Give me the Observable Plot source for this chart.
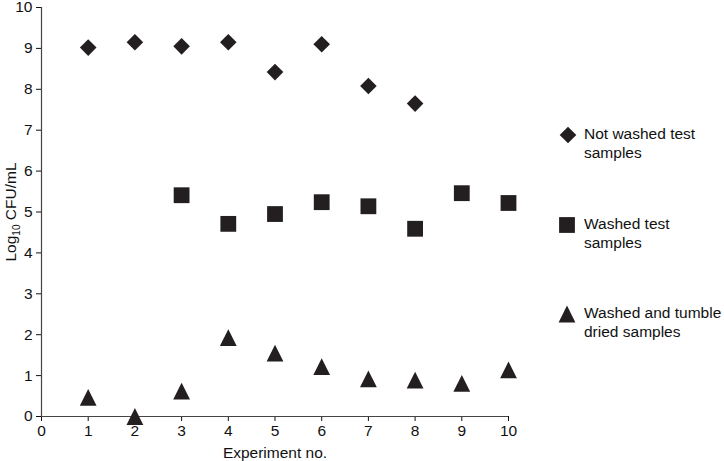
<!DOCTYPE html>
<html><head><meta charset="utf-8">
<script src="https://cdn.jsdelivr.net/npm/d3@7"></script>
<script src="https://cdn.jsdelivr.net/npm/@observablehq/plot@0.6"></script>
<style>
body{margin:0;background:#fff;}
#wrap{position:relative;width:724px;height:461px;font-family:"Liberation Sans",Arial,sans-serif;color:#111;}
.leg{position:absolute;font-size:15.5px;line-height:18.6px;white-space:nowrap;}
.sym{position:absolute;}
</style></head><body><div id="wrap"></div>
<script>
const experiments = [1, 2, 3, 4, 5, 6, 7, 8, 9, 10];
const notWashed = [9.02, 9.15, 9.05, 9.15, 8.42, 9.10, 8.08, 7.65, null, null];
const washed = [null, null, 5.41, 4.71, 4.95, 5.24, 5.14, 4.59, 5.46, 5.22];
const tumbleDried = [0.47, 0.0, 0.62, 1.93, 1.55, 1.22, 0.92, 0.89, 0.81, 1.14];
const seriesNames = [["Not washed test", "samples"], ["Washed test", "samples"], ["Washed and tumble", "dried samples"]];
const xTicks = [0, 1, 2, 3, 4, 5, 6, 7, 8, 9, 10];
const yTicks = [0, 1, 2, 3, 4, 5, 6, 7, 8, 9, 10];

const ink = "#231f20";
const diamond = {draw(ctx, size) {const r = Math.sqrt(size / Math.PI); ctx.moveTo(0, -r); ctx.lineTo(r, 0); ctx.lineTo(0, r); ctx.lineTo(-r, 0); ctx.closePath();}};
const square = {draw(ctx, size) {const r = Math.sqrt(size / Math.PI); ctx.rect(-r, -r, 2 * r, 2 * r);}};
const triangle = {draw(ctx, size) {const r = Math.sqrt(size / Math.PI); ctx.moveTo(0, -r); ctx.lineTo(r, r); ctx.lineTo(-r, r); ctx.closePath();}};
const symbols = [diamond, square, triangle];
const sizes = [8.3, 7.9, 8.4];

const series = [notWashed, washed, tumbleDried].map(vals =>
  experiments.map((e, i) => ({x: e, y: vals[i]})).filter(d => d.y != null));

const chart = Plot.plot({
  width: 724, height: 461,
  marginLeft: 41, marginRight: 216, marginTop: 7, marginBottom: 45,
  style: {fontFamily: '"Liberation Sans", Arial, sans-serif', fontSize: "15.5px", color: "#111", background: "#fff"},
  x: {domain: [0, 10], ticks: xTicks, tickSize: 5, tickPadding: 3, label: "Experiment no.", labelAnchor: "center", labelOffset: 41, labelArrow: "none"},
  y: {domain: [0, 10], ticks: yTicks, tickSize: 5, tickPadding: 4, label: "Log10 CFU/mL", labelAnchor: "center", labelOffset: 37, labelArrow: "none"},
  marks: [
    Plot.ruleX([0], {stroke: "#444", strokeWidth: 1.2}),
    Plot.ruleY([0], {stroke: "#444", strokeWidth: 1.2}),
    ...series.map((s, k) => Plot.dot(s, {x: "x", y: "y", symbol: symbols[k], r: sizes[k], fill: ink, stroke: "none"}))
  ]
});
document.getElementById("wrap").appendChild(chart);

// subscript in y label
const ylab = d3.select(chart).select('g[aria-label="y-axis label"] text');
if (!ylab.empty()) {
  ylab.text(null);
  ylab.append("tspan").text("Log");
  ylab.append("tspan").attr("font-size", "10px").attr("dy", 4).text("10");
  ylab.append("tspan").attr("dy", -4).text(" CFU/mL");
}

// legend on the right
const legendPos = [{sx: 568, sy: 135, tx: 584, ty: 125}, {sx: 567, sy: 225, tx: 584, ty: 215}, {sx: 567, sy: 314, tx: 584, ty: 304}];
const wrap = d3.select("#wrap");
seriesNames.forEach((lines, k) => {
  const p = legendPos[k];
  const r = sizes[k];
  const svg = wrap.append("svg").attr("class", "sym").attr("width", 24).attr("height", 24)
    .style("left", (p.sx - 12) + "px").style("top", (p.sy - 12) + "px");
  svg.append("path").attr("transform", "translate(12,12)").attr("fill", ink)
    .attr("d", d3.symbol(symbols[k], r * r * Math.PI)());
  const div = wrap.append("div").attr("class", "leg").style("left", p.tx + "px").style("top", p.ty + "px");
  div.html(lines.join("<br>"));
});
</script>
</body></html>
